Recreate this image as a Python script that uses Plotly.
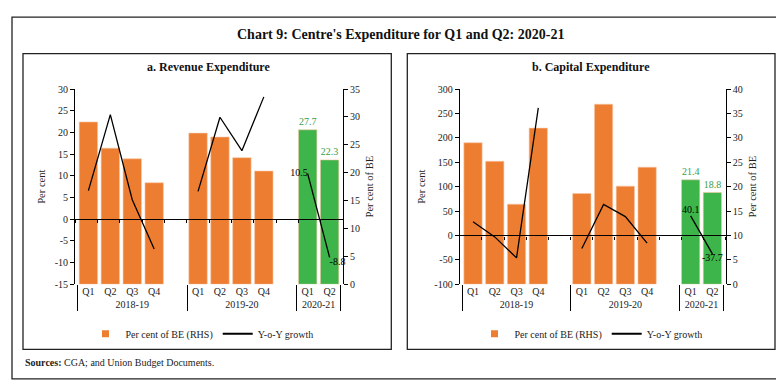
import plotly.graph_objects as go

W, H = 784, 382

# ---------------- data ----------------
years = ["2018-19"] * 5 + ["2019-20"] * 5 + ["2020-21"] * 2
quarters = ["Q1", "Q2", "Q3", "Q4", " ", "Q1", "Q2", "Q3", "Q4", "  ", "Q1", "Q2"]

rev_share = [29.1, 24.4, 22.5, 18.2, None, 27.1, 26.4, 22.7, 20.3, None, 27.7, 22.3]
rev_growth = [6.6, 24.1, 4.5, -6.9, None, 6.4, 23.5, 15.8, 28.2, None, 10.5, -8.8]

cap_share = [29.0, 25.2, 16.4, 32.0, None, 18.6, 36.9, 20.1, 24.0, None, 21.4, 18.8]
cap_growth = [27.9, -3.0, -46.0, 261.6, None, -26.8, 63.6, 38.6, -15.6, None, 40.1, -37.7]

rev_left_ticks = list(range(-15, 31, 5))
rev_right_ticks = list(range(0, 36, 5))
cap_left_ticks = list(range(-100, 301, 50))
cap_right_ticks = list(range(0, 41, 5))

# ---------------- styles ----------------
ORANGE = "#ED7D31"
GREEN = "#3DB54A"
GREEN_TXT = "#3A9E47"
FONT = "Liberation Serif"
TXT = "#222222"


def px(x):
    return x / W


def py(y):
    return 1 - y / H


bar_colors = [GREEN if y == "2020-21" else ORANGE for y in years]
n_cat = len(quarters)
bounds = [i - 0.5 for i in range(n_cat + 1)]


def last_labels(vals, n_last):
    out = []
    for i, v in enumerate(vals):
        out.append(f"{v}" if (i >= len(vals) - n_last and v is not None) else "")
    return out


fig = go.Figure()

# ---- panel a ----
fig.add_trace(go.Bar(
    x=[years, quarters], y=rev_share, xaxis="x", yaxis="y",
    marker=dict(color=bar_colors, line=dict(color="#F6C7A6", width=0.6)),
    text=last_labels(rev_share, 2), textposition="outside",
    textfont=dict(color=GREEN_TXT, size=10, family=FONT),
    cliponaxis=False, showlegend=False, hoverinfo="skip"))
fig.add_trace(go.Scatter(
    x=[years, quarters], y=rev_growth, xaxis="x", yaxis="y2",
    mode="lines+text", line=dict(color="black", width=1.3),
    text=last_labels(rev_growth, 2),
    textposition=["middle left"] * 11 + ["bottom right"],
    textfont=dict(color="black", size=10, family=FONT),
    cliponaxis=False, showlegend=False, hoverinfo="skip", connectgaps=False))
fig.add_trace(go.Scatter(x=[None], y=[None], xaxis="x3", yaxis="y2",
                         showlegend=False, hoverinfo="skip"))

# ---- panel b ----
fig.add_trace(go.Bar(
    x=[years, quarters], y=cap_share, xaxis="x2", yaxis="y3",
    marker=dict(color=bar_colors, line=dict(color="#F6C7A6", width=0.6)),
    text=last_labels(cap_share, 2), textposition="outside",
    textfont=dict(color=GREEN_TXT, size=10, family=FONT),
    cliponaxis=False, showlegend=False, hoverinfo="skip"))
fig.add_trace(go.Scatter(
    x=[years, quarters], y=cap_growth, xaxis="x2", yaxis="y4",
    mode="lines+text", line=dict(color="black", width=1.3),
    text=last_labels(cap_growth, 2),
    textposition=["top center"] * 11 + ["bottom center"],
    textfont=dict(color="black", size=10, family=FONT),
    cliponaxis=False, showlegend=False, hoverinfo="skip", connectgaps=False))
fig.add_trace(go.Scatter(x=[None], y=[None], xaxis="x4", yaxis="y4",
                         showlegend=False, hoverinfo="skip"))

# ---- legend proxies ----
for lg in ["legend", "legend2"]:
    fig.add_trace(go.Scatter(x=[None], y=[None], mode="markers",
                             marker=dict(symbol="square", size=7, color=ORANGE),
                             name="Per cent of BE (RHS)", legend=lg, hoverinfo="skip",
                             xaxis="x" if lg == "legend" else "x2",
                             yaxis="y2" if lg == "legend" else "y4"))
    fig.add_trace(go.Scatter(x=[None], y=[None], mode="lines",
                             line=dict(color="black", width=2),
                             name="Y-o-Y growth", legend=lg, hoverinfo="skip",
                             xaxis="x" if lg == "legend" else "x2",
                             yaxis="y2" if lg == "legend" else "y4"))

ydom = [py(279), py(77.5)]
xa_dom = [px(67), px(335)]
xb_dom = [px(451.7), px(717.7)]
hdom = ydom[1] - ydom[0]

tickfont = dict(family=FONT, size=10, color=TXT)
titlefont = dict(family=FONT, size=10.5, color=TXT)

xcat = dict(type="multicategory", showline=False, ticks="", showgrid=False,
            showdividers=True, dividercolor="black", dividerwidth=1,
            tickfont=tickfont)


def yax(rng, ticks, side, title, overlay=None, anchor="x"):
    d = dict(range=[rng[0], rng[1]], tickvals=ticks, ticktext=[str(t) for t in ticks],
             side=side, domain=ydom,
             anchor=anchor, showline=True, linecolor="black", linewidth=1,
             ticks="outside", ticklen=4, tickcolor="black", showgrid=False,
             zeroline=False, tickfont=tickfont,
             title=dict(text=title, font=titlefont, standoff=6))
    if overlay:
        d["overlaying"] = overlay
    return d


def zero_axis(overlay, frac):
    return dict(overlaying=overlay, anchor="free", position=ydom[0] + frac * hdom,
                range=[-0.5, n_cat - 0.5], tickvals=bounds, ticks="outside",
                ticklen=3, tickcolor="black", showline=True, linecolor="black",
                linewidth=1.2, showticklabels=False, showgrid=False, zeroline=False)


fig.update_layout(
    width=W, height=H, margin=dict(l=0, r=0, t=0, b=0),
    paper_bgcolor="white", plot_bgcolor="rgba(0,0,0,0)",
    font=dict(family=FONT, color=TXT),
    bargap=0.16,
    xaxis=dict(xcat, domain=xa_dom, anchor="y"),
    xaxis2=dict(xcat, domain=xb_dom, anchor="y3"),
    yaxis=yax([0, 35], rev_right_ticks, "right", "Per cent of BE"),
    yaxis2=yax([-15, 30], rev_left_ticks, "left", "Per cent", overlay="y"),
    yaxis3=yax([0, 40], cap_right_ticks, "right", "Per cent of BE", anchor="x2"),
    yaxis4=yax([-100, 300], cap_left_ticks, "left", "Per cent", overlay="y3", anchor="x2"),
    xaxis3=zero_axis("x", 15 / 45),
    xaxis4=zero_axis("x2", 100 / 400),
    legend=dict(orientation="h", x=px(194), y=py(330), xanchor="center", yanchor="middle",
                font=dict(family=FONT, size=10, color=TXT), bgcolor="rgba(0,0,0,0)",
                itemwidth=30),
    legend2=dict(orientation="h", x=px(583), y=py(330), xanchor="center", yanchor="middle",
                 font=dict(family=FONT, size=10, color=TXT), bgcolor="rgba(0,0,0,0)",
                 itemwidth=30),
)

fig.update_layout(shapes=[
    dict(type="rect", xref="paper", yref="paper", x0=px(4), x1=px(778), y0=py(376.7), y1=py(3.3),
         line=dict(color="#222", width=1.3)),
    dict(type="rect", xref="paper", yref="paper", x0=px(15), x1=px(383.3), y0=py(346.3), y1=py(41),
         line=dict(color="#222", width=1.3)),
    dict(type="rect", xref="paper", yref="paper", x0=px(399.3), x1=px(767), y0=py(346.3), y1=py(41),
         line=dict(color="#222", width=1.3)),
])

fig.update_layout(annotations=[
    dict(text="<b>Chart 9: Centre's Expenditure for Q1 and Q2: 2020-21</b>", xref="paper", yref="paper",
         x=px(392), y=py(21), xanchor="center", yanchor="middle", showarrow=False,
         font=dict(family=FONT, size=14, color="#111")),
    dict(text="<b>a. Revenue Expenditure</b>", xref="paper", yref="paper",
         x=px(200), y=py(55), xanchor="center", yanchor="middle", showarrow=False,
         font=dict(family=FONT, size=12, color="#111")),
    dict(text="<b>b. Capital Expenditure</b>", xref="paper", yref="paper",
         x=px(583), y=py(55), xanchor="center", yanchor="middle", showarrow=False,
         font=dict(family=FONT, size=12, color="#111")),
    dict(text="<b>Sources:</b> CGA; and Union Budget Documents.", xref="paper", yref="paper",
         x=px(15), y=py(360), xanchor="left", yanchor="middle", showarrow=False,
         font=dict(family=FONT, size=10, color=TXT)),
])

fig.write_html("out.html")
